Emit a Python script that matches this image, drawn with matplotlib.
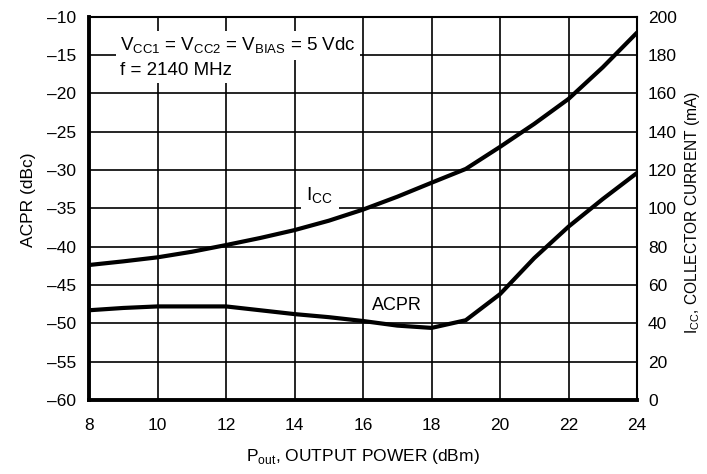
import matplotlib
matplotlib.use("Agg")
import matplotlib.pyplot as plt
import numpy as np

pout = [8, 9, 10, 11, 12, 13, 14, 15, 16, 17, 18, 19, 20, 21, 22, 23, 24]
acpr = [-48.3, -48.0, -47.8, -47.8, -47.8, -48.3, -48.8, -49.2, -49.7,
        -50.3, -50.6, -49.6, -46.2, -41.5, -37.4, -33.8, -30.4]
icc = [70.4, 72.3, 74.4, 77.3, 80.8, 84.5, 88.6, 93.5, 99.3, 106.0,
       113.3, 120.5, 132.0, 144.0, 157.0, 173.5, 191.6]

xticks = [8, 10, 12, 14, 16, 18, 20, 22, 24]
yticks_left = [-60, -55, -50, -45, -40, -35, -30, -25, -20, -15, -10]
yticks_right = [0, 20, 40, 60, 80, 100, 120, 140, 160, 180, 200]

plt.rcParams['font.family'] = ['Liberation Sans', 'DejaVu Sans']
plt.rcParams['mathtext.fontset'] = 'custom'
plt.rcParams['mathtext.rm'] = 'Liberation Sans'

W, H = 707, 474
fig = plt.figure(figsize=(W / 100, H / 100), dpi=100)
ax = fig.add_axes([89 / W, 1 - 400 / H, 548 / W, 383.5 / H])
ax.set_xlim(8, 24)
ax.set_ylim(-60, -10)
ax.set_xticks(xticks)
ax.set_yticks(yticks_left)
ax.set_yticklabels([("\u2013" + str(-v)) for v in yticks_left])
ax.set_xticklabels([str(v) for v in xticks])
ax.grid(True, color='black', lw=1.2)
ax.tick_params(length=0, labelsize=12.5, pad=9)
ax.tick_params(axis='x', pad=13)
for s in ['left', 'bottom']:
    ax.spines[s].set_linewidth(2.8)
for s in ['top', 'right']:
    ax.spines[s].set_linewidth(1.5)

ax.plot(pout, acpr, color='black', lw=3, solid_capstyle='round', zorder=5)

ax2 = ax.twinx()
ax2.set_ylim(0, 200)
ax2.set_yticks(yticks_right)
ax2.tick_params(length=0, labelsize=12.5, pad=8)
ax2.plot(pout, icc, color='black', lw=3, solid_capstyle='round', zorder=5)
for s in ax2.spines.values():
    s.set_visible(False)

tr = ax.transData
bb = dict(facecolor='white', edgecolor='none', pad=3)
ax2.text(8.9, -13.8, r"V$_{\mathregular{CC1}}$ = V$_{\mathregular{CC2}}$ = V$_{\mathregular{BIAS}}$ = 5 Vdc",
         fontsize=13.5, va='center', ha='left', bbox=bb, zorder=6, transform=tr)
ax2.text(8.9, -17.0, "f = 2140 MHz", fontsize=13.5, va='center', ha='left', bbox=bb, zorder=6, transform=tr)
ax2.text(14.74, -33.4, r"I$_{\mathregular{CC}}$", fontsize=14, va='center', ha='center',
         bbox=dict(facecolor='white', edgecolor='none', pad=4), zorder=6, transform=tr)
ax2.text(17.0, -47.7, "ACPR", fontsize=13, va='center', ha='center',
         bbox=dict(facecolor='white', edgecolor='none', pad=2), zorder=6, transform=tr)

fig.text(29 / W, 1 - 200 / H, "ACPR (dBc)", fontsize=12.5, rotation=90, ha='center', va='center')
fig.text(363 / W, 1 - 457 / H, r"P$_{\mathregular{out}}$, OUTPUT POWER (dBm)", fontsize=12.5,
         ha='center', va='center')
fig.text(692 / W, 1 - 212 / H, r"I$_{\mathregular{CC}}$, COLLECTOR CURRENT (mA)", fontsize=11.2,
         rotation=90, ha='center', va='center')

fig.savefig("out.png", dpi=100)
